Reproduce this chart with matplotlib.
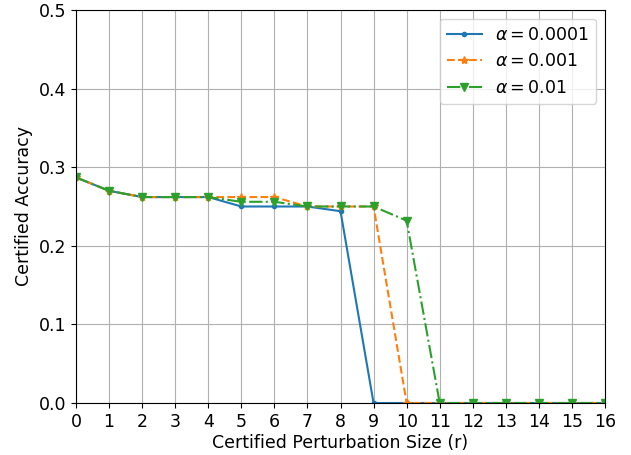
import matplotlib
matplotlib.use('Agg')
import matplotlib.pyplot as plt

# radii
r = list(range(17))

# certified accuracy for each alpha
acc_0001 = [0.287, 0.270, 0.262, 0.262, 0.262, 0.250, 0.250, 0.250, 0.244, 0, 0, 0, 0, 0, 0, 0, 0]
acc_001 = [0.287, 0.270, 0.262, 0.262, 0.262, 0.262, 0.262, 0.250, 0.250, 0.250, 0, 0, 0, 0, 0, 0, 0]
acc_01 = [0.287, 0.270, 0.262, 0.262, 0.262, 0.256, 0.256, 0.250, 0.250, 0.250, 0.232, 0, 0, 0, 0, 0, 0]

plt.rcParams['font.size'] = 12.5

fig = plt.figure(figsize=(6.31, 4.55), dpi=100)
ax = fig.add_axes([76/631, 1 - 403/455, (605-76)/631, (403-10)/455])

ax.plot(r, acc_0001, '-', marker='.', label=r'$\alpha=0.0001$')
ax.plot(r, acc_001, '--', marker='*', label=r'$\alpha=0.001$')
ax.plot(r, acc_01, '-.', marker='v', label=r'$\alpha=0.01$')

ax.set_xlim(0, 16)
ax.set_ylim(0, 0.5)
ax.set_xticks(r)
ax.grid(True)
ax.set_xlabel('Certified Perturbation Size (r)', labelpad=2)
ax.set_ylabel('Certified Accuracy')
ax.legend(loc='upper right')

fig.savefig('out.png', dpi=100)
